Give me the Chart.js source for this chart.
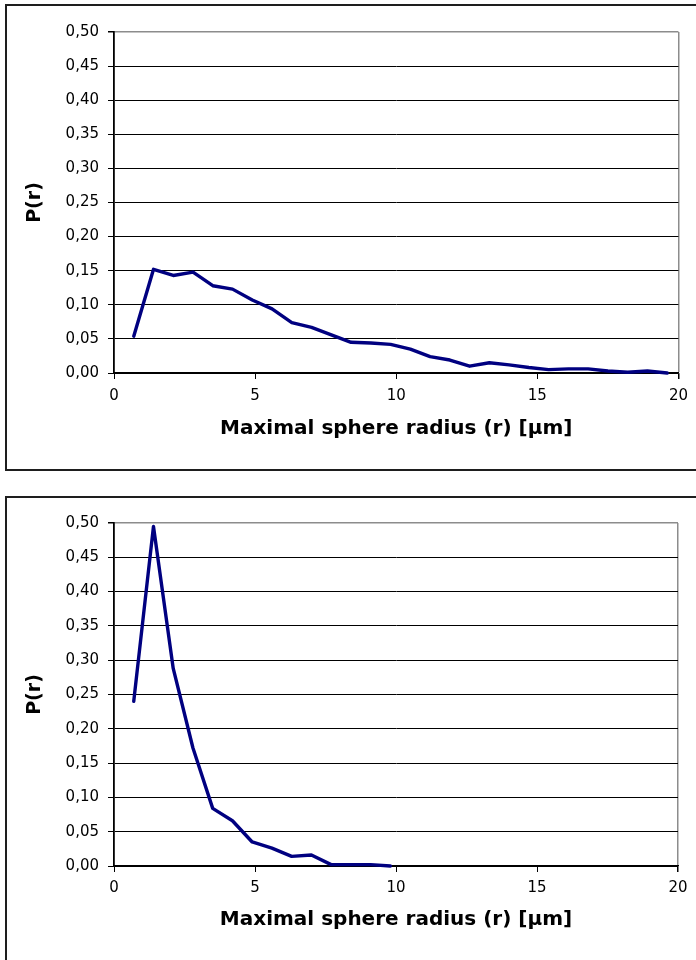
<!DOCTYPE html>
<html>
<head>
<meta charset="utf-8">
<script src="https://cdn.jsdelivr.net/npm/chart.js"></script>
<style>
  html, body { margin: 0; padding: 0; background: #fff; }
  body { width: 696px; height: 960px; position: relative; overflow: hidden; }
  .box { position: absolute; border: 2px solid #1e1e1e; background: #fff; }
  #box1 { left: 5px; top: 4px; width: 720px; height: 463px; }
  #box2 { left: 5px; top: 496px; width: 720px; height: 480px; }
  canvas { position: absolute; left: 0; }
  #c1 { top: 0; }
  #c2 { top: 490px; }
</style>
</head>
<body>
<div class="box" id="box1"></div>
<div class="box" id="box2"></div>
<canvas id="c1" width="696" height="480"></canvas>
<canvas id="c2" width="696" height="470"></canvas>
<script>
// ---- data ----
const radiusTop = [0.7, 1.4, 2.1, 2.8, 3.5, 4.2, 4.9, 5.6, 6.3, 7.0, 7.7, 8.4, 9.1, 9.8,
                   10.5, 11.2, 11.9, 12.6, 13.3, 14.0, 14.7, 15.4, 16.1, 16.8, 17.5, 18.2, 18.9, 19.6];
const probTop = [0.054, 0.152, 0.143, 0.148, 0.128, 0.123, 0.107, 0.094, 0.074, 0.067, 0.056, 0.045, 0.044, 0.042,
                 0.035, 0.024, 0.019, 0.010, 0.015, 0.012, 0.008, 0.005, 0.006, 0.006, 0.003, 0.001, 0.003, 0.000];

const radiusBottom = [0.7, 1.4, 2.1, 2.8, 3.5, 4.2, 4.9, 5.6, 6.3, 7.0, 7.7, 8.4, 9.1, 9.8];
const probBottom = [0.240, 0.495, 0.288, 0.172, 0.084, 0.066, 0.035, 0.026, 0.014, 0.016, 0.002, 0.002, 0.002, 0.000];

const xTickValues = [0, 5, 10, 15, 20];
const yTickValues = [0, 0.05, 0.10, 0.15, 0.20, 0.25, 0.30, 0.35, 0.40, 0.45, 0.50];

const xTitle = 'Maximal sphere radius (r) [µm]';
const yTitle = 'P(r)';

// ---- chart builder ----
function makeChart(canvasId, xs, ys, geom) {
  const pts = xs.map((x, i) => ({ x: x, y: ys[i] }));
  const FONT = 'DejaVu Sans';
  return new Chart(document.getElementById(canvasId), {
    type: 'scatter',
    data: {
      datasets: [{
        data: pts,
        showLine: true,
        borderColor: '#000080',
        backgroundColor: '#000080',
        borderWidth: 3.4,
        pointRadius: 0,
        pointHoverRadius: 0,
        tension: 0,
        borderJoinStyle: 'round',
        borderCapStyle: 'round',
        clip: false
      }]
    },
    options: {
      responsive: false,
      animation: false,
      events: [],
      layout: { padding: { left: 0, right: geom.padRight, top: geom.padTop, bottom: 0 } },
      plugins: { legend: { display: false }, tooltip: { enabled: false }, title: { display: false } },
      scales: {
        x: {
          type: 'linear',
          min: 0, max: 20,
          afterBuildTicks: (s) => { s.ticks = xTickValues.map(v => ({ value: v })); },
          afterFit: (s) => { s.height = geom.xHeight; },
          ticks: {
            color: '#000',
            font: { family: FONT, size: 15 },
            padding: geom.xTickPad,
            maxRotation: 0,
            callback: (v) => String(v)
          },
          grid: {
            drawOnChartArea: true,
            color: (ctx) => (ctx.tick && ctx.tick.value === 20) ? '#8c8c8c' : 'rgba(0,0,0,0)',
            lineWidth: (ctx) => (ctx.tick && ctx.tick.value === 20) ? 1.5 : 1,
            tickColor: '#000',
            tickLength: 6,
            drawTicks: true
          },
          border: { display: true, color: '#000', width: 1.2 },
          title: {
            display: true,
            text: xTitle,
            color: '#000',
            font: { family: FONT, size: 20, weight: 'bold' },
            padding: { top: 0, bottom: geom.xTitlePad }
          }
        },
        y: {
          type: 'linear',
          min: 0, max: 0.5,
          afterBuildTicks: (s) => { s.ticks = yTickValues.map(v => ({ value: v })); },
          afterFit: (s) => { s.width = 114; },
          ticks: {
            color: '#000',
            font: { family: FONT, size: 15 },
            padding: 9,
            callback: (v) => Number(v).toFixed(2).replace('.', ',')
          },
          grid: {
            color: (ctx) => (ctx.tick && Math.abs(ctx.tick.value - 0.5) < 1e-9) ? '#8c8c8c' : '#000',
            lineWidth: (ctx) => (ctx.tick && Math.abs(ctx.tick.value - 0.5) < 1e-9) ? 1.5 : 1,
            tickColor: '#000',
            tickLength: 6,
            drawTicks: true
          },
          border: { display: true, color: '#000', width: 1.8 },
          title: {
            display: true,
            text: yTitle,
            color: '#000',
            font: { family: FONT, size: 19, weight: 'bold' },
            padding: { top: 24, bottom: 0 }
          }
        }
      }
    }
  });
}

// top chart: plot area 114..679 x 32..373 (page coords)
makeChart('c1', radiusTop, probTop, { padTop: 32, padRight: 17, xHeight: 107, xTickPad: 8, xTitlePad: 39 });
// bottom chart: canvas at page y=490, plot area 523..866 -> 33..376 in canvas
makeChart('c2', radiusBottom, probBottom, { padTop: 33, padRight: 18, xHeight: 94, xTickPad: 7, xTitlePad: 28 });
</script>
</body>
</html>
